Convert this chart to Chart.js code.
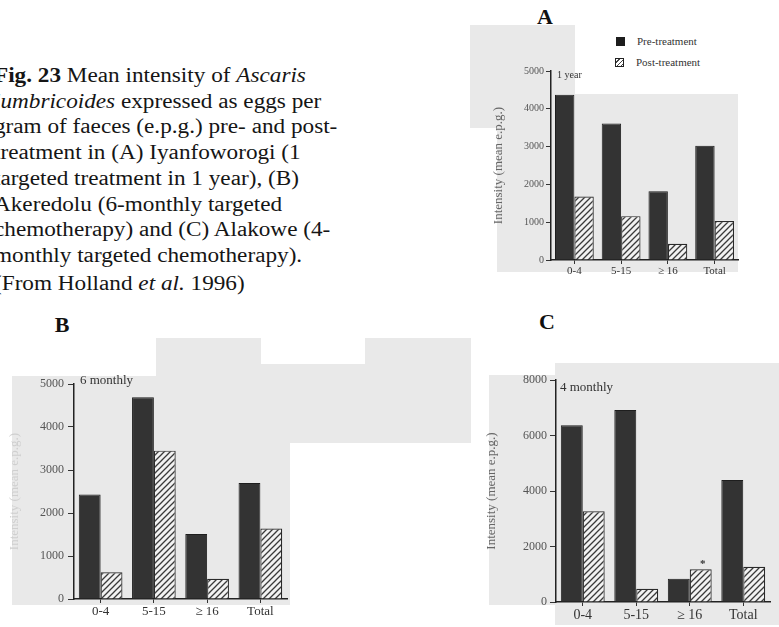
<!DOCTYPE html>
<html>
<head>
<meta charset="utf-8">
<script src="https://cdn.jsdelivr.net/npm/chart.js@4.4.1/dist/chart.umd.min.js"></script>
<style>
  html, body { margin: 0; padding: 0; background: #fff; }
  body { width: 779px; height: 627px; position: relative; overflow: hidden;
         font-family: "Liberation Serif", "Times New Roman", serif; color: #111; }
  .patch { position: absolute; background: #e9e9e9; }
  .letter { position: absolute; font-weight: bold; font-size: 22px; transform: translate(-50%, -50%); }
  #caption { position: absolute; left: -6px; top: 63px; font-size: 20px; line-height: 25.7px;
             white-space: nowrap; color: #151515; transform: scaleX(1.16); transform-origin: 0 0; }
  canvas { position: absolute; }
  .legend-row { position: absolute; font-size: 11px; color: #333; display: flex; align-items: center; }
  .sw { width: 9px; height: 9px; margin-right: 12px; box-sizing: border-box; }
  .sw.pre { background: #1d1d1d; }
  .sw.post { border: 1px solid #222;
             background: repeating-linear-gradient(135deg, #fff 0 2px, #444 2px 3px); }
</style>
</head>
<body>
<!-- light grey paper areas behind the panels -->
<div class="patch" style="left:470px;top:25px;width:105px;height:103px"></div>
<div class="patch" style="left:497px;top:94px;width:241px;height:178px"></div>
<div class="patch" style="left:12px;top:376px;width:278px;height:229px"></div>
<div class="patch" style="left:156px;top:338px;width:105px;height:38px"></div>
<div class="patch" style="left:261px;top:364px;width:104px;height:79px"></div>
<div class="patch" style="left:365px;top:338px;width:106px;height:105px"></div>
<div class="patch" style="left:489px;top:375px;width:290px;height:230px"></div>
<div class="patch" style="left:555px;top:363px;width:224px;height:262px"></div>

<div id="caption">
  <div><b>Fig. 23</b> Mean intensity of <i>Ascaris</i></div>
  <div><i>lumbricoides</i> expressed as eggs per</div>
  <div>gram of faeces (e.p.g.) pre- and post-</div>
  <div>treatment in (A) Iyanfoworogi (1</div>
  <div>targeted treatment in 1 year), (B)</div>
  <div>Akeredolu (6-monthly targeted</div>
  <div>chemotherapy) and (C) Alakowe (4-</div>
  <div>monthly targeted chemotherapy).</div>
  <div style="margin-top:2px">(From Holland <i>et al.</i> 1996)</div>
</div>

<div class="letter" style="left:545px;top:17px">A</div>
<div class="letter" style="left:62px;top:325px">B</div>
<div class="letter" style="left:547px;top:322px">C</div>

<div class="legend-row" style="left:616px;top:35px"><span class="sw pre"></span>Pre-treatment</div>
<div class="legend-row" style="left:615px;top:56px"><span class="sw post"></span>Post-treatment</div>

<canvas id="chartA" width="275" height="225" style="left:470px;top:60px"></canvas>
<canvas id="chartB" width="295" height="250" style="left:0px;top:370px"></canvas>
<canvas id="chartC" width="305" height="260" style="left:470px;top:365px"></canvas>

<script>
// Age groups shared by all three panels
const ageGroups = ['0-4', '5-15', '\u2265 16', 'Total'];

// A: Iyanfoworogi, one treatment in a year
const preA  = [4370, 3610, 1820, 3020];
const postA = [1680, 1160, 430, 1030];

// B: Akeredolu, 6-monthly treatment
const preB  = [2430, 4690, 1510, 2700];
const postB = [620, 3450, 470, 1640];

// C: Alakowe, 4-monthly treatment
const preC  = [6370, 6920, 840, 4400];
const postC = [3270, 480, 1180, 1270];

// y-axis ranges
const yMaxA = 5000, yStepA = 1000;
const yMaxB = 5000, yStepB = 1000;
const yMaxC = 8000, yStepC = 2000;

const seriesNames = ['Pre-treatment', 'Post-treatment'];
const yTitle = 'Intensity (mean e.p.g.)';
const SERIF = '"Liberation Serif", "Times New Roman", serif';

Chart.defaults.devicePixelRatio = 1;

function hatchPattern() {
  const c = document.createElement('canvas');
  c.width = 6; c.height = 6;
  const g = c.getContext('2d');
  g.fillStyle = '#f2f2f2';
  g.fillRect(0, 0, 6, 6);
  g.strokeStyle = '#3a3a3a';
  g.lineWidth = 1.3;
  g.beginPath();
  g.moveTo(0, 6); g.lineTo(6, 0);
  g.moveTo(-3, 3); g.lineTo(3, -3);
  g.moveTo(3, 9); g.lineTo(9, 3);
  g.stroke();
  return g.createPattern(c, 'repeat');
}

// small inline note near the top of the y axis, plus an optional asterisk above one bar
const notesPlugin = {
  id: 'panelNotes',
  afterDatasetsDraw(chart, args, opts) {
    const ctx = chart.ctx, area = chart.chartArea;
    ctx.save();
    if (opts.text) {
      ctx.font = opts.size + 'px ' + SERIF;
      ctx.fillStyle = '#333';
      ctx.textAlign = 'left';
      ctx.textBaseline = 'middle';
      ctx.fillText(opts.text, area.left + opts.dx, area.top + opts.dy);
    }
    if (opts.starSeries >= 0) {
      const bar = chart.getDatasetMeta(opts.starSeries).data[opts.starAt];
      ctx.font = 'bold 11px ' + SERIF;
      ctx.fillStyle = '#333';
      ctx.textAlign = 'center';
      ctx.textBaseline = 'middle';
      ctx.fillText('*', bar.x + 2, bar.y - 5);
    }
    ctx.restore();
  }
};

function makePanel(id, pre, post, cfg) {
  const ctx = document.getElementById(id).getContext('2d');
  return new Chart(ctx, {
    type: 'bar',
    data: {
      labels: ageGroups,
      datasets: [
        { label: seriesNames[0], data: pre, backgroundColor: '#333', borderColor: '#1e1e1e',
          borderWidth: 1, barPercentage: 1, categoryPercentage: cfg.cat },
        { label: seriesNames[1], data: post, backgroundColor: hatchPattern(), borderColor: '#2a2a2a',
          borderWidth: 1.2, barPercentage: 1, categoryPercentage: cfg.cat }
      ]
    },
    options: {
      responsive: false,
      animation: false,
      layout: { padding: cfg.padding },
      plugins: {
        legend: { display: false },
        tooltip: { enabled: false },
        panelNotes: cfg.notes
      },
      scales: {
        x: {
          ticks: { font: { family: SERIF, size: cfg.xFont }, color: '#333', padding: 1 },
          grid: { drawOnChartArea: false, offset: false, tickLength: 4, color: '#333' },
          border: { color: '#222', width: 1.5 },
          afterFit: s => { s.height = cfg.xHeight; }
        },
        y: {
          min: 0, max: cfg.max,
          ticks: { stepSize: cfg.step, font: { family: SERIF, size: cfg.yFont }, color: '#555',
                   padding: cfg.tickPad, callback: v => String(v) },
          grid: { drawOnChartArea: false, tickLength: cfg.tickLen, color: '#333' },
          border: { color: '#222', width: 1.5 },
          title: { display: true, text: yTitle, font: { family: SERIF, size: 13 },
                   color: cfg.titleColor, padding: 0 },
          afterFit: s => { s.width = cfg.yWidth; }
        }
      }
    },
    plugins: [notesPlugin]
  });
}

makePanel('chartA', preA, postA, {
  max: yMaxA, step: yStepA, cat: 0.83, yWidth: 60, xHeight: 25,
  yFont: 10, xFont: 11, tickLen: 5, tickPad: 2,
  padding: { left: 21, top: 11, right: 7, bottom: 0 }, titleColor: '#666',
  notes: { text: '1 year', dx: 6, dy: 4, size: 10, starSeries: -1, starAt: 0 }
});
makePanel('chartB', preB, postB, {
  max: yMaxB, step: yStepB, cat: 0.82, yWidth: 67, xHeight: 21,
  yFont: 12, xFont: 13, tickLen: 6, tickPad: 4,
  padding: { left: 7, top: 14, right: 8, bottom: 0 }, titleColor: '#cfcfcf',
  notes: { text: '6 monthly', dx: 6, dy: -3, size: 13, starSeries: -1, starAt: 0 }
});
makePanel('chartC', preC, postC, {
  max: yMaxC, step: yStepC, cat: 0.82, yWidth: 72, xHeight: 23,
  yFont: 12, xFont: 14, tickLen: 6, tickPad: 3,
  padding: { left: 14, top: 15, right: 5, bottom: 0 }, titleColor: '#666',
  notes: { text: '4 monthly', dx: 4, dy: 8, size: 13, starSeries: 1, starAt: 2 }
});
</script>
</body>
</html>
